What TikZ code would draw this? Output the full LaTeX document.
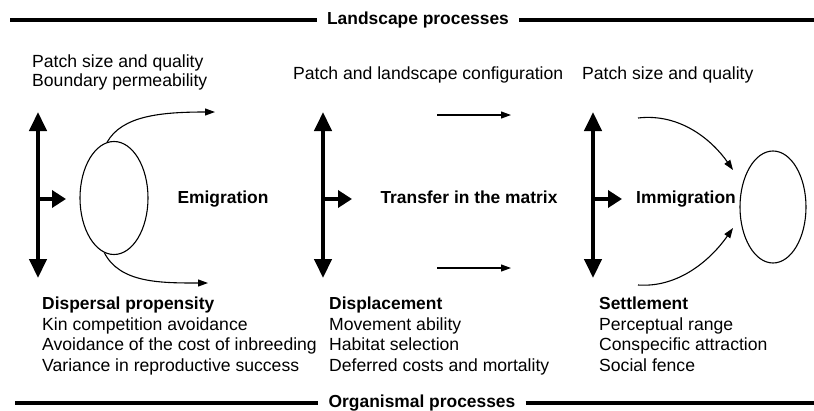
\documentclass[tikz,border=0pt]{standalone}
\usepackage{fontspec}
\setmainfont{Liberation Sans}
\usetikzlibrary{arrows.meta,shapes.geometric}
\begin{document}
\begin{tikzpicture}[x=1pt,y=-1pt,
  txt/.style={anchor=west,inner sep=0pt,text height=13pt,text depth=4pt,font=\fontsize{17.6}{20}\selectfont},
  ttl/.style={inner sep=0pt,text height=13pt,text depth=4pt,font=\bfseries\fontsize{17.4}{20}\selectfont},
  bar/.style={line width=4pt},
  bigarrow/.style={line width=4.5pt,{Triangle[width=17pt,length=19pt]}-{Triangle[width=17pt,length=19pt]}},
  sidearrow/.style={line width=4.5pt,-{Triangle[width=17pt,length=14pt]}},
  thin/.style={line width=1.1pt,-{Triangle[width=7pt,length=10pt]}},
  patch/.style={draw,ellipse,line width=1.1pt,inner sep=0pt}
]
\useasboundingbox (0,0) rectangle (814,410);
% headers
\node[ttl] (land) at (418,20) {Landscape processes};
\coordinate (l1) at (10,20); \coordinate (l2) at (814,20);
\draw[bar] (l1) -- ([xshift=-10pt]land.west);
\draw[bar] ([xshift=10pt]land.east) -- (l2);
\node[ttl] (org) at (422,403) {Organismal processes};
\coordinate (o1) at (15,403); \coordinate (o2) at (814,403);
\draw[bar] (o1) -- ([xshift=-10pt]org.west);
\draw[bar] ([xshift=10pt]org.east) -- (o2);
% top texts
\node[txt] (t1) at (32,63) {Patch size and quality};
\node[txt] (t2) at (32,82) {Boundary permeability};
\node[txt] (t3) at (293,75) {Patch and landscape configuration};
\node[txt] (t4) at (582,75) {Patch size and quality};
% double arrows
\coordinate (a1t) at (38,112); \coordinate (a1b) at (38,278);
\coordinate (a1m) at (38,199); \coordinate (a1r) at (66,199);
\draw[bigarrow] (a1t) -- (a1b);
\draw[sidearrow] (a1m) -- (a1r);
\coordinate (a2t) at (323,112); \coordinate (a2b) at (323,278);
\coordinate (a2m) at (323,199); \coordinate (a2r) at (352,199);
\draw[bigarrow] (a2t) -- (a2b);
\draw[sidearrow] (a2m) -- (a2r);
\coordinate (a3t) at (593,112); \coordinate (a3b) at (593,278);
\coordinate (a3m) at (593,199); \coordinate (a3r) at (622,199);
\draw[bigarrow] (a3t) -- (a3b);
\draw[sidearrow] (a3m) -- (a3r);
% emigration
\node[patch,minimum width=68pt,minimum height=113pt] (e1) at (114,198) {};
\node[ttl] (emi) at (223,199) {Emigration};
\coordinate (e1t) at (215,112);
\draw[thin] (e1.97) .. controls (122,116) and (160,112) .. (e1t);
\coordinate (e1u) at (208,283);
\draw[thin] (e1.260) .. controls (120,283) and (160,283) .. (e1u);
% transfer
\node[ttl] (tra) at (469,199) {Transfer in the matrix};
\coordinate (m1a) at (437,115); \coordinate (m1b) at (511,115);
\coordinate (m2a) at (437,268); \coordinate (m2b) at (511,268);
\draw[thin] (m1a) -- (m1b);
\draw[thin] (m2a) -- (m2b);
% immigration
\node[patch,minimum width=66pt,minimum height=112pt] (e2) at (773,207) {};
\node[ttl] (imm) at (686,199) {Immigration};
\coordinate (i1a) at (638,118); \coordinate (i1b) at (733,170);
\coordinate (i2a) at (638,285); \coordinate (i2b) at (733,228);
\draw[thin] (i1a) .. controls (680,113) and (712,140) .. (i1b);
\draw[thin] (i2a) .. controls (680,288) and (712,258) .. (i2b);
% bottom texts
\node[txt,font=\bfseries\fontsize{17.4}{20}\selectfont] (b1) at (42,305) {Dispersal propensity};
\node[txt] (b2) at (42,326) {Kin competition avoidance};
\node[txt] (b3) at (42,346) {Avoidance of the cost of inbreeding};
\node[txt] (b4) at (42,367) {Variance in reproductive success};
\node[txt,font=\bfseries\fontsize{17.4}{20}\selectfont] (c1) at (329,305) {Displacement};
\node[txt] (c2) at (329,326) {Movement ability};
\node[txt] (c3) at (329,346) {Habitat selection};
\node[txt] (c4) at (329,367) {Deferred costs and mortality};
\node[txt,font=\bfseries\fontsize{17.4}{20}\selectfont] (d1) at (599,305) {Settlement};
\node[txt] (d2) at (599,326) {Perceptual range};
\node[txt] (d3) at (599,346) {Conspecific attraction};
\node[txt] (d4) at (599,367) {Social fence};
\end{tikzpicture}
\end{document}
